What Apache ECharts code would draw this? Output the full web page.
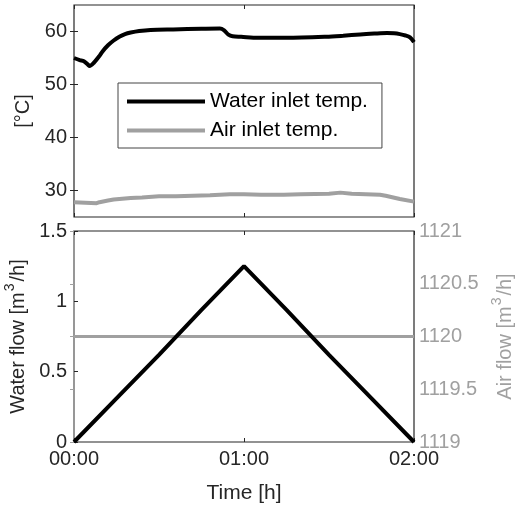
<!DOCTYPE html>
<html>
<head>
<meta charset="utf-8">
<script src="https://cdn.jsdelivr.net/npm/echarts@6/dist/echarts.min.js"></script>
<style>
  html, body { margin: 0; padding: 0; background: #fff; }
  #chart { width: 521px; height: 509px; }
</style>
</head>
<body>
<div id="chart"></div>
<script>
// time in minutes
var waterTempT = [0, 2, 3.5, 5, 5.5, 7, 9, 10, 12, 14, 16, 18, 20, 23, 27, 35, 45, 51.5, 53, 54.5, 56, 59, 65, 75, 89, 95, 101, 106, 110.5, 113, 115, 117, 118.6, 120]
var waterTempV = [55.0, 54.6, 54.4, 53.7, 53.5, 54.1, 55.4, 56.2, 57.4, 58.3, 59.0, 59.5, 59.8, 60.1, 60.3, 60.4, 60.5, 60.55, 60.2, 59.4, 59.1, 59.0, 58.8, 58.8, 59.0, 59.2, 59.45, 59.6, 59.7, 59.65, 59.5, 59.25, 58.9, 58.0]

var airTempT = [0, 4, 8, 9, 12, 14, 20, 24, 30, 36, 42, 48, 55, 60, 66, 74, 80, 90, 94, 98, 103, 108, 110, 115, 120]
var airTempV = [27.8, 27.7, 27.6, 27.8, 28.1, 28.3, 28.6, 28.7, 28.9, 28.9, 29.0, 29.1, 29.3, 29.3, 29.2, 29.2, 29.3, 29.4, 29.6, 29.4, 29.3, 29.2, 29.0, 28.4, 27.9]

var waterFlowT = [0, 15, 30, 45, 60, 75, 90, 105, 120]
var waterFlowV = [0, 0.31, 0.62, 0.94, 1.25, 0.94, 0.62, 0.31, 0]

var airFlowT = [0, 120]
var airFlowV = [1120, 1120]

var tempTicks = [30, 40, 50, 60]
var timeLabels = ['00:00', '01:00', '02:00']

function pairs(t, v) {
  return t.map(function (x, i) { return [x, v[i]] })
}

var textColor = '#262626'
var grayColor = '#a0a0a0'
var font = 'Liberation Sans, Arial, sans-serif'

var chart = echarts.init(document.getElementById('chart'))

var baseX = {
  type: 'value',
  min: 0,
  max: 120,
  interval: 60,
  splitLine: { show: false },
  axisLine: { show: false },
  axisTick: { inside: true, length: 4, lineStyle: { color: textColor } }
}

// superscript: bottom padding lifts the small glyph above the middle of the line
function supStyle(color) {
  return { sup: { fontSize: 14, color: color, fontFamily: font, padding: [0, 2, 16, 1] } }
}

var option = {
  backgroundColor: '#fff',
  animation: false,
  grid: [
    { left: 74, right: 107, top: 5, height: 212, outerBoundsMode: 'none', show: true, borderColor: textColor, borderWidth: 1.2 },
    { left: 74, right: 107, top: 231, height: 211, outerBoundsMode: 'none', show: true, borderColor: textColor, borderWidth: 1.2 }
  ],
  legend: {
    left: 118,
    top: 83,
    orient: 'vertical',
    padding: [8, 14, 7, 9],
    itemGap: 8,
    itemWidth: 78,
    itemHeight: 4,
    backgroundColor: '#fff',
    borderColor: '#444',
    borderWidth: 1,
    selectedMode: false,
    textStyle: { fontSize: 21, color: '#000', fontFamily: font },
    data: [
      { name: 'Water inlet temp.', icon: 'rect' },
      { name: 'Air inlet temp.', icon: 'rect' }
    ]
  },
  xAxis: [
    Object.assign({}, baseX, { gridIndex: 0, position: 'bottom', axisLabel: { show: false } }),
    Object.assign({}, baseX, { gridIndex: 0, position: 'top', axisLabel: { show: false } }),
    Object.assign({}, baseX, {
      gridIndex: 1,
      position: 'bottom',
      name: 'Time [h]',
      nameLocation: 'middle',
      nameGap: 41,
      nameTextStyle: { fontSize: 21, color: textColor, fontFamily: font },
      axisLabel: {
        margin: 7,
        fontSize: 20,
        color: textColor,
        fontFamily: font,
        formatter: function (v) { return timeLabels[v / 60] }
      }
    }),
    Object.assign({}, baseX, { gridIndex: 1, position: 'top', axisLabel: { show: false } })
  ],
  yAxis: [
    {
      type: 'value',
      gridIndex: 0,
      position: 'left',
      min: 25,
      max: 65,
      name: '[°C]',
      nameLocation: 'middle',
      nameGap: 25,
      nameTextStyle: { fontSize: 20, color: textColor, fontFamily: font },
      splitLine: { show: false },
      axisLine: { show: false },
      axisTick: { inside: true, length: 4, customValues: tempTicks, lineStyle: { color: textColor } },
      axisLabel: { margin: 7, fontSize: 20, color: textColor, fontFamily: font, customValues: tempTicks }
    },
    {
      type: 'value',
      gridIndex: 0,
      position: 'right',
      min: 25,
      max: 65,
      splitLine: { show: false },
      axisLine: { show: false },
      axisTick: { inside: true, length: 4, customValues: tempTicks, lineStyle: { color: textColor } },
      axisLabel: { show: false }
    },
    {
      type: 'value',
      gridIndex: 1,
      position: 'left',
      min: 0,
      max: 1.5,
      interval: 0.5,
      name: 'Water flow [m{sup|3}/h]',
      nameLocation: 'middle',
      nameGap: 31,
      nameTextStyle: { fontSize: 20, color: textColor, fontFamily: font, rich: supStyle(textColor) },
      splitLine: { show: false },
      axisLine: { show: false },
      axisTick: { inside: true, length: 4, lineStyle: { color: textColor } },
      axisLabel: { margin: 7, fontSize: 20, color: textColor, fontFamily: font }
    },
    {
      type: 'value',
      gridIndex: 1,
      position: 'right',
      min: 1119,
      max: 1121,
      interval: 0.5,
      name: 'Air flow [m{sup|3}/h]',
      nameLocation: 'middle',
      nameRotate: 90,
      nameGap: 76,
      nameTextStyle: { fontSize: 20, color: grayColor, fontFamily: font, rich: supStyle(grayColor) },
      splitLine: { show: false },
      axisLine: { show: true, lineStyle: { color: grayColor, width: 1.5 } },
      axisTick: { inside: true, length: 4, lineStyle: { color: grayColor } },
      axisLabel: {
        margin: 5, fontSize: 20, color: grayColor, fontFamily: font,
        formatter: function (v) { return String(v) }
      }
    }
  ],
  series: [
    {
      name: 'Water inlet temp.',
      type: 'line',
      xAxisIndex: 0,
      yAxisIndex: 0,
      smooth: 0.3,
      showSymbol: false,
      color: '#000',
      lineStyle: { width: 4, color: '#000' },
      data: pairs(waterTempT, waterTempV)
    },
    {
      name: 'Air inlet temp.',
      type: 'line',
      xAxisIndex: 0,
      yAxisIndex: 0,
      showSymbol: false,
      color: grayColor,
      lineStyle: { width: 4, color: grayColor },
      data: pairs(airTempT, airTempV)
    },
    {
      name: 'Water flow',
      type: 'line',
      xAxisIndex: 2,
      yAxisIndex: 2,
      showSymbol: false,
      z: 3,
      lineStyle: { width: 4, color: '#000' },
      data: pairs(waterFlowT, waterFlowV)
    },
    {
      name: 'Air flow',
      type: 'line',
      xAxisIndex: 2,
      yAxisIndex: 3,
      showSymbol: false,
      z: 2,
      lineStyle: { width: 3, color: grayColor },
      data: pairs(airFlowT, airFlowV)
    }
  ]
}

chart.setOption(option)
</script>
</body>
</html>
